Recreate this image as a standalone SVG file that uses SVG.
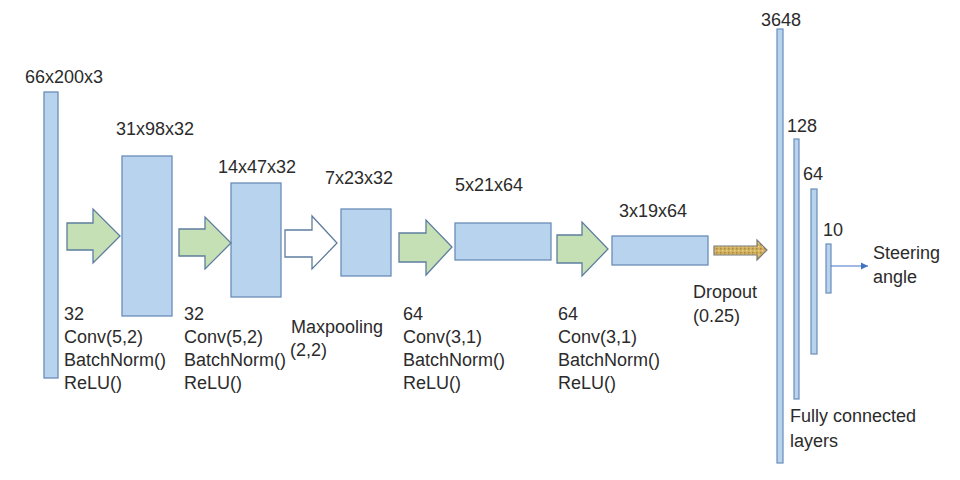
<svg xmlns="http://www.w3.org/2000/svg" width="960" height="480" viewBox="0 0 960 480">
<defs>
<style>
.box{fill:#B7D3EE;stroke:#6A8DB8;stroke-width:1.3}
.bar{fill:#B7D3EE;stroke:#6A8DB8;stroke-width:1.2}
.garrow{fill:#C5E0B4;stroke:#5E7D9E;stroke-width:1.3}
.warrow{fill:#FFFFFF;stroke:#5E7D9E;stroke-width:1.3}
.darrow{fill:url(#dots);stroke:#7A7A7A;stroke-width:1.2}
text{font-family:"Liberation Sans",Arial,sans-serif;font-size:18px;fill:#2B2B2B}
</style>
<pattern id="dots" width="4" height="4" patternUnits="userSpaceOnUse">
<rect width="4" height="4" fill="#D2B05E"/>
<rect x="0" y="0" width="1.5" height="1.5" fill="#A88A3E"/>
<rect x="2" y="2" width="1.5" height="1.5" fill="#E8D08A"/>
</pattern>
<marker id="ah" markerWidth="8" markerHeight="8" refX="7" refY="4" orient="auto" markerUnits="userSpaceOnUse">
<path d="M0,0.5 L7,4 L0,7.5 Z" fill="#4472C4"/>
</marker>
</defs>

<g id="input">
<rect class="box" x="44" y="92" width="14" height="286"/>
<text x="25" y="83">66x200x3</text>
</g>

<g id="conv1">
<rect class="box" x="122" y="156" width="50" height="160"/>
<text x="116" y="135">31x98x32</text>
</g>

<g id="conv2">
<rect class="box" x="231" y="183" width="50" height="114"/>
<text x="218" y="173">14x47x32</text>
</g>

<g id="pool">
<rect class="box" x="341" y="209" width="50" height="67"/>
<text x="325" y="184">7x23x32</text>
</g>

<g id="conv3">
<rect class="box" x="455" y="223" width="96" height="37"/>
<text x="455" y="191">5x21x64</text>
</g>

<g id="conv4">
<rect class="box" x="612" y="236" width="96" height="29"/>
<text x="619" y="217">3x19x64</text>
</g>

<g id="fc3648">
<rect class="bar" x="777" y="29" width="6" height="434"/>
<text x="761" y="26">3648</text>
</g>
<g id="fc128">
<rect class="bar" x="794" y="139" width="5" height="260"/>
<text x="787" y="132">128</text>
</g>
<g id="fc64">
<rect class="bar" x="811" y="189" width="6" height="165"/>
<text x="803" y="180">64</text>
</g>
<g id="fc10">
<rect class="bar" x="826" y="244" width="5" height="49"/>
<text x="823" y="236">10</text>
</g>

<g id="connectors">
<path class="garrow" d="M67,223 H93 V209 L120,236 L93,263 V250 H67 Z"/>
<path class="garrow" d="M179,229 H205 V217 L231,243 L205,269 V256 H179 Z"/>
<path class="warrow" d="M285,230 H312 V216 L337,243 L312,269 V257 H285 Z"/>
<path class="garrow" d="M399,233 H426 V220 L452,247 L426,275 V262 H399 Z"/>
<path class="garrow" d="M557,235 H582 V222 L608,249 L582,276 V263 H557 Z"/>
<path class="darrow" d="M714,246 H757 V240 L767,250 L757,260 V255 H714 Z"/>
<line x1="831" y1="266" x2="868" y2="266" stroke="#4472C4" stroke-width="1" marker-end="url(#ah)"/>
</g>

<g id="labels">
<text x="64" y="320">32</text>
<text x="64" y="343">Conv(5,2)</text>
<text x="64" y="366">BatchNorm()</text>
<text x="64" y="389">ReLU()</text>

<text x="184" y="320">32</text>
<text x="184" y="343">Conv(5,2)</text>
<text x="184" y="366">BatchNorm()</text>
<text x="184" y="389">ReLU()</text>

<text x="291" y="333">Maxpooling</text>
<text x="290" y="356">(2,2)</text>

<text x="403" y="320">64</text>
<text x="403" y="343">Conv(3,1)</text>
<text x="403" y="366">BatchNorm()</text>
<text x="403" y="389">ReLU()</text>

<text x="558" y="320">64</text>
<text x="558" y="343">Conv(3,1)</text>
<text x="558" y="366">BatchNorm()</text>
<text x="558" y="389">ReLU()</text>

<text x="693" y="298">Dropout</text>
<text x="693" y="322">(0.25)</text>

<text x="873" y="259">Steering</text>
<text x="873" y="283">angle</text>

<text x="790" y="422">Fully connected</text>
<text x="790" y="447">layers</text>
</g>
</svg>
